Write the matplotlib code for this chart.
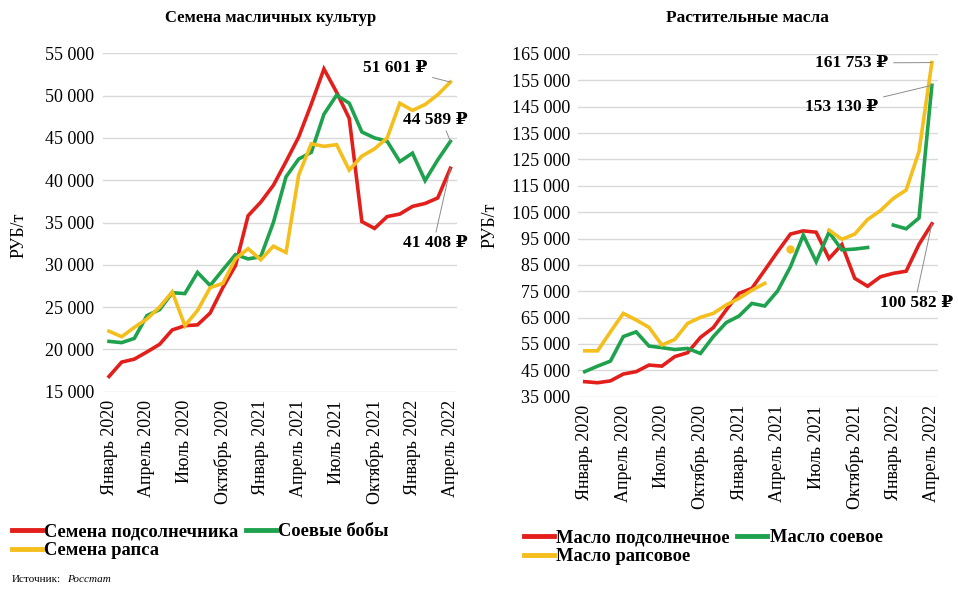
import numpy as np
import matplotlib
matplotlib.use("Agg")
import matplotlib.pyplot as plt
from matplotlib.lines import Line2D

nan = np.nan

months = ["Январь 2020", "Февраль 2020", "Март 2020", "Апрель 2020", "Май 2020", "Июнь 2020",
          "Июль 2020", "Август 2020", "Сентябрь 2020", "Октябрь 2020", "Ноябрь 2020", "Декабрь 2020",
          "Январь 2021", "Февраль 2021", "Март 2021", "Апрель 2021", "Май 2021", "Июнь 2021",
          "Июль 2021", "Август 2021", "Сентябрь 2021", "Октябрь 2021", "Ноябрь 2021", "Декабрь 2021",
          "Январь 2022", "Февраль 2022", "Март 2022", "Апрель 2022"]

# Left panel: oilseeds, RUB/t
sunflower_seeds = [16800, 18500, 18850, 19700, 20600, 22300, 22800, 22900, 24300, 27300,
                   29900, 35800, 37400, 39400, 42200, 45100, 49000, 53150, 50400, 47300,
                   35100, 34300, 35700, 36000, 36900, 37250, 37900, 41408]
soybeans = [20950, 20800, 21300, 24000, 24700, 26700, 26600, 29100, 27550, 29400,
            31200, 30700, 30950, 35000, 40400, 42500, 43300, 47800, 50050, 49100,
            45700, 45000, 44600, 42200, 43200, 39950, 42400, 44589]
rapeseed = [22150, 21500, 22600, 23600, 25000, 26800, 22800, 24600, 27300, 27800,
            30700, 31900, 30600, 32200, 31450, 40600, 44300, 44000, 44200, 41200,
            42850, 43700, 45000, 49100, 48250, 48950, 50100, 51601]

# Right panel: vegetable oils, RUB/t
sunflower_oil = [40700, 40300, 41000, 43600, 44500, 47000, 46600, 50200, 51700, 57500,
                 61200, 67900, 74200, 76100, 83000, 90000, 96700, 97900, 97400, 87400,
                 92700, 79900, 76900, 80500, 81800, 82600, 92800, 100582]
soy_oil = [44500, 46600, 48500, 57800, 59600, 54200, 53600, 52900, 53300, 51400,
           57800, 63100, 65600, 70400, 69400, 75100, 84300, 96300, 86200, 97400,
           90700, 91000, 91600, nan, 100100, 98700, 102800, 153130]
rapeseed_oil = [52400, 52400, 59600, 66600, 64100, 61300, 54600, 56700, 62800, 65100,
                66600, 69800, 72300, 75400, 78000, nan, 91200, nan, nan, 98200,
                94700, 96700, 102200, 105600, 110200, 113400, 128000, 161753]

left_title = "Семена масличных культур"
right_title = "Растительные масла"
left_names = ["Семена подсолнечника", "Соевые бобы", "Семена рапса"]
right_names = ["Масло подсолнечное", "Масло соевое", "Масло рапсовое"]
y_label = "РУБ/т"
left_yticks = list(range(15000, 55001, 5000))
right_yticks = list(range(35000, 165001, 10000))

RED = "#E31F1C"
GREEN = "#1FA24D"
YELLOW = "#F4BE1C"
colors = [RED, GREEN, YELLOW]

SERIF = ["Liberation Serif", "DejaVu Serif"]
plt.rcParams["font.family"] = SERIF

W, H = 958, 590
fig = plt.figure(figsize=(W / 100, H / 100), dpi=100)


def fig_px(x, y_top):
    return (x / W, 1 - y_top / H)


def make_ax(left, right, top, bottom):
    return fig.add_axes([left / W, 1 - bottom / H, (right - left) / W, (bottom - top) / H])


def fmt(v):
    return f"{int(v):,}".replace(",", " ")


def draw_panel(ax, series, names, yticks):
    x = np.arange(len(months))
    handles = []
    for vals, c, n in zip(series, colors, names):
        v = np.array(vals, dtype=float)
        ax.plot(x, v, color=c, lw=2.6, solid_joinstyle="miter", zorder=3)
        # isolated points (no neighbours) shown as dots
        for i in range(len(v)):
            if not np.isnan(v[i]):
                left_nan = i == 0 or np.isnan(v[i - 1])
                right_nan = i == len(v) - 1 or np.isnan(v[i + 1])
                if left_nan and right_nan:
                    ax.plot([x[i]], [v[i]], "o", color=c, ms=6, mec="none", zorder=3)
        handles.append(Line2D([], [], color=c, lw=3.5))
    ax.set_xlim(-0.5, len(months) - 0.5)
    ax.set_ylim(yticks[0], yticks[-1])
    ax.set_yticks(yticks)
    ax.set_yticklabels([fmt(t) for t in yticks], fontsize=13)
    ax.set_xticks(x[::3])
    ax.set_xticklabels(months[::3], rotation=90, fontsize=13)
    ax.tick_params(length=0, pad=6)
    ax.tick_params(axis="x", pad=6)
    ax.grid(axis="y", color="#D9D9D9", lw=1)
    ax.set_axisbelow(True)
    for s in ax.spines.values():
        s.set_visible(False)
    ax.set_ylabel(y_label, fontsize=13)
    return handles


axL = make_ax(102.7, 456.7, 53.3, 391.7)
hL = draw_panel(axL, [sunflower_seeds, soybeans, rapeseed], left_names, left_yticks)
axL.yaxis.set_label_coords(-0.212, 0.463)

axR = make_ax(578.3, 938.3, 54.0, 396.7)
hR = draw_panel(axR, [sunflower_oil, soy_oil, rapeseed_oil], right_names, right_yticks)
axR.yaxis.set_label_coords(-0.222, 0.50)

fig.text(*fig_px(271, 18), left_title, ha="center", va="center", fontsize=12, fontweight="bold")
fig.text(*fig_px(747, 18), right_title, ha="center", va="center", fontsize=12.5, fontweight="bold")

# legends (row1: item1,item2; row2: item3)
leg_kw = dict(ncol=2, frameon=False, handlelength=1.6, handletextpad=0.15,
              columnspacing=0.4, labelspacing=0.12, borderpad=0, borderaxespad=0,
              prop={"family": SERIF, "weight": "bold", "size": 13.3})
order = [0, 2, 1]
fig.legend([hL[i] for i in order], [left_names[i] for i in order],
           loc="upper left", bbox_to_anchor=fig_px(12, 523), **leg_kw)
fig.legend([hR[i] for i in order], [right_names[i] for i in order],
           loc="upper left", bbox_to_anchor=fig_px(524, 529), **leg_kw)

# source
fig.text(*fig_px(12, 580), "Источник:", fontsize=8, va="center", ha="left")
fig.text(*fig_px(67, 580), "Росстат", fontsize=8, va="center", ha="left", style="italic")

# end-value annotations
ann_kw = dict(fontsize=12.5, fontweight="bold", textcoords="figure pixels", va="center",
              arrowprops=dict(arrowstyle="-", color="#8C8C8C", lw=0.7, shrinkA=2, shrinkB=0))
last = len(months) - 1
axL.annotate(fmt(rapeseed[-1]) + " ₽", xy=(last, rapeseed[-1]), xytext=(427, H - 68), ha="right", **ann_kw)
axL.annotate(fmt(soybeans[-1]) + " ₽", xy=(last, soybeans[-1]), xytext=(403, H - 120), ha="left",
             **{**ann_kw, "arrowprops": dict(arrowstyle="-", color="#8C8C8C", lw=0.7, shrinkA=0, shrinkB=0,
                                            relpos=(0.65, 0.0))})
axL.annotate(fmt(sunflower_seeds[-1]) + " ₽", xy=(last, sunflower_seeds[-1]), xytext=(403, H - 243), ha="left",
             **{**ann_kw, "arrowprops": dict(arrowstyle="-", color="#8C8C8C", lw=0.7, shrinkA=0, shrinkB=0,
                                            relpos=(0.5, 1.0))})
axR.annotate(fmt(rapeseed_oil[-1]) + " ₽", xy=(last, rapeseed_oil[-1]), xytext=(888, H - 63), ha="right", **ann_kw)
axR.annotate(fmt(soy_oil[-1]) + " ₽", xy=(last, soy_oil[-1]), xytext=(878, H - 107), ha="right", **ann_kw)
axR.annotate(fmt(sunflower_oil[-1]) + " ₽", xy=(last, sunflower_oil[-1]), xytext=(880, H - 303), ha="left",
             **{**ann_kw, "arrowprops": dict(arrowstyle="-", color="#8C8C8C", lw=0.7, shrinkA=0, shrinkB=0,
                                            relpos=(0.5, 1.0))})

fig.savefig("out.png", dpi=100)
